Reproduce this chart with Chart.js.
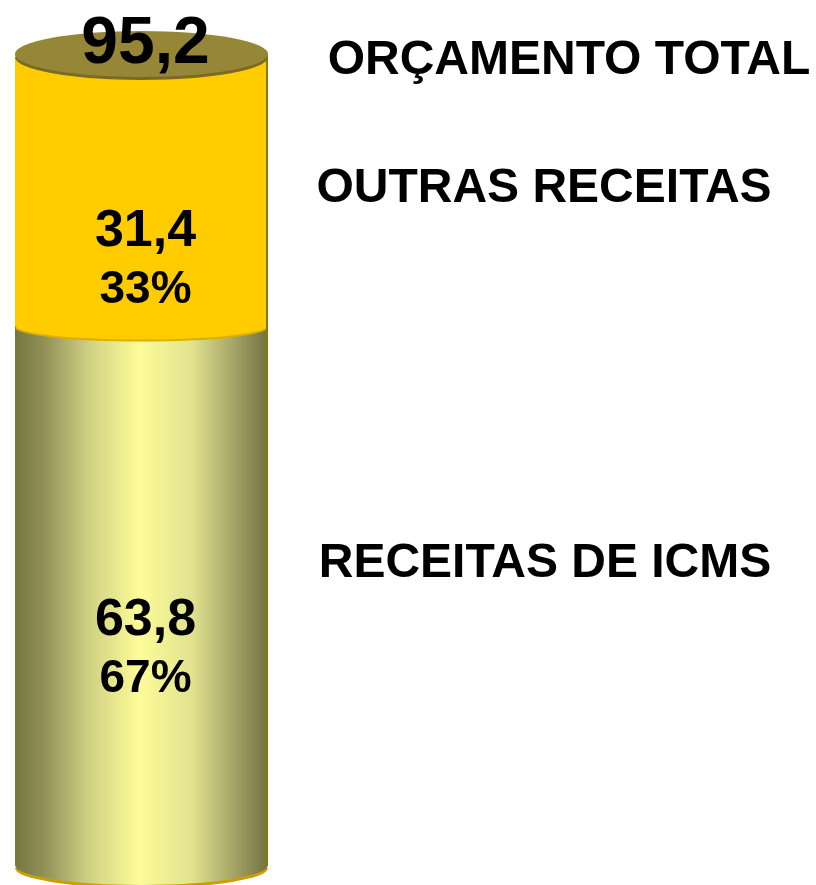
<!DOCTYPE html>
<html>
<head>
<meta charset="utf-8">
<script src="https://cdn.jsdelivr.net/npm/chart.js@4/dist/chart.umd.min.js"></script>
<style>
  html, body { margin: 0; padding: 0; background: #fff; }
  #wrap { width: 816px; height: 885px; position: relative; }
</style>
</head>
<body>
<div id="wrap"><canvas id="chart"></canvas></div>
<script>
// data (R$ bilhões)
const categories = ['Orçamento'];
const seriesNames = ['RECEITAS DE ICMS', 'OUTRAS RECEITAS'];
const icmsValues = [63.8];
const outrasValues = [31.4];
const totalName = 'ORÇAMENTO TOTAL';

const fmt = v => v.toFixed(1).replace('.', ',');
const FONT = '"Liberation Sans", Arial, Helvetica, sans-serif';

// draws the bars as a 3d cylinder using the bar elements positions
const cylinderPlugin = {
  id: 'cylinder',
  afterDatasetsDraw(chart) {
    const ctx = chart.ctx;
    const low = chart.getDatasetMeta(0).data[0].getProps(['x', 'y', 'base', 'width'], true);
    const high = chart.getDatasetMeta(1).data[0].getProps(['x', 'y', 'base', 'width'], true);
    const cx = low.x, rx = low.width / 2;
    const left = cx - rx, right = cx + rx;
    const base = low.base, mid = low.y, top = high.y;
    const capY = top - 6; // cap sits a bit higher, like the 3d view

    ctx.save();

    // bottom segment
    ctx.fillStyle = '#C9A000';
    ctx.beginPath();
    ctx.ellipse(cx, base + 3, rx, 20, 0, 0, Math.PI);
    ctx.fill();

    const grad = ctx.createLinearGradient(left, 0, right, 0);
    grad.addColorStop(0, '#76763F');
    grad.addColorStop(0.1, '#8C8C55');
    grad.addColorStop(0.3, '#D2D285');
    grad.addColorStop(0.49, '#FCFC98');
    grad.addColorStop(0.7, '#E2E290');
    grad.addColorStop(0.88, '#9F9F62');
    grad.addColorStop(1, '#727243');
    ctx.fillStyle = grad;
    ctx.beginPath();
    ctx.moveTo(left, mid);
    ctx.lineTo(left, base);
    ctx.ellipse(cx, base, rx, 20, 0, Math.PI, 0, true);
    ctx.lineTo(right, mid);
    ctx.closePath();
    ctx.fill();

    // top segment
    ctx.fillStyle = '#DDAE00';
    ctx.beginPath();
    ctx.ellipse(cx, mid + 2, rx, 14, 0, 0, Math.PI);
    ctx.fill();

    ctx.fillStyle = '#FFCC00';
    ctx.beginPath();
    ctx.moveTo(left, capY);
    ctx.lineTo(left, mid);
    ctx.ellipse(cx, mid, rx, 14, 0, Math.PI, 0, true);
    ctx.lineTo(right, capY);
    ctx.closePath();
    ctx.fill();

    // right edge
    ctx.strokeStyle = '#8A7600';
    ctx.lineWidth = 2;
    ctx.beginPath();
    ctx.moveTo(right - 1, capY);
    ctx.lineTo(right - 1, base);
    ctx.stroke();

    // cap
    ctx.fillStyle = '#7A6A22';
    ctx.beginPath();
    ctx.ellipse(cx, capY + 3, rx, 23, 0, 0, Math.PI);
    ctx.fill();
    ctx.fillStyle = '#968638';
    ctx.beginPath();
    ctx.ellipse(cx, capY, rx, 23, 0, 0, Math.PI * 2);
    ctx.fill();

    // value labels
    const total = icmsValues[0] + outrasValues[0];
    const tx = cx + 4;
    ctx.fillStyle = '#000';
    ctx.textAlign = 'center';
    ctx.textBaseline = 'alphabetic';

    ctx.font = 'bold 66px ' + FONT;
    ctx.fillText(fmt(total), tx, top + 3);

    const segs = [
      { v: icmsValues[0], y0: mid, y1: base, off: 40 },
      { v: outrasValues[0], y0: top, y1: mid, off: 53 }
    ];
    segs.forEach(s => {
      const y = (s.y0 + s.y1) / 2 + s.off;
      ctx.font = 'bold 52px ' + FONT;
      ctx.fillText(fmt(s.v), tx, y);
      ctx.font = 'bold 46px ' + FONT;
      ctx.fillText(Math.round(s.v / total * 100) + '%', tx, y + 57);
    });

    // names on the right
    ctx.font = 'bold 48px ' + FONT;
    ctx.fillText(totalName, 569, top + 14);
    ctx.fillText(seriesNames[1], 544, 202);
    ctx.fillText(seriesNames[0], 545, 577);

    ctx.restore();
  }
};

const chart = document.getElementById('chart').getContext('2d');

new Chart(chart, {
  type: 'bar',
  data: {
    labels: categories,
    datasets: [
      { label: seriesNames[0], data: icmsValues, backgroundColor: 'rgba(0,0,0,0)' },
      { label: seriesNames[1], data: outrasValues, backgroundColor: 'rgba(0,0,0,0)' }
    ]
  },
  options: {
    responsive: true,
    maintainAspectRatio: false,
    animation: false,
    layout: { padding: { top: 60, bottom: 20, left: 15, right: 548 } },
    datasets: { bar: { barPercentage: 1, categoryPercentage: 1 } },
    scales: {
      x: { stacked: true, display: false },
      y: { stacked: true, display: false, min: 0, max: icmsValues[0] + outrasValues[0] }
    },
    plugins: {
      legend: { display: false },
      tooltip: { enabled: false }
    }
  },
  plugins: [cylinderPlugin]
});
</script>
</body>
</html>
